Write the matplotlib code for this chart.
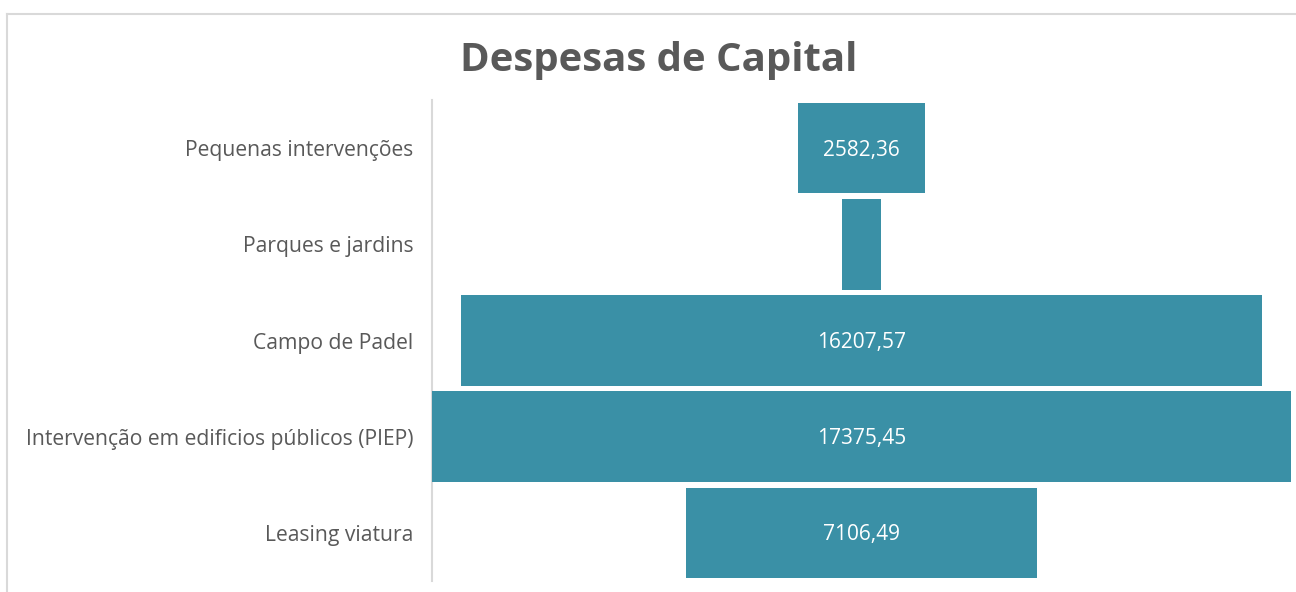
import matplotlib
matplotlib.use("Agg")
import matplotlib.pyplot as plt
from matplotlib.lines import Line2D

categories = ["Pequenas intervenções", "Parques e jardins", "Campo de Padel",
              "Intervenção em edificios públicos (PIEP)", "Leasing viatura"]
values = [2582.36, 790.0, 16207.57, 17375.45, 7106.49]
labels = ["2582,36", "", "16207,57", "17375,45", "7106,49"]
title = "Despesas de Capital"

W, H = 1296, 592
fig = plt.figure(figsize=(W / 100, H / 100), dpi=100)
fig.patch.set_facecolor("white")

# chart border
fig.add_artist(Line2D([7 / W, 7 / W], [0, 1 - 13.5 / H], transform=fig.transFigure,
                      color="#d9d9d9", lw=1.5))
fig.add_artist(Line2D([7 / W, 1], [1 - 13.5 / H, 1 - 13.5 / H], transform=fig.transFigure,
                      color="#d9d9d9", lw=1.5))

ax = fig.add_axes([432 / W, 1 - 581 / H, (1291 - 432) / W, (581 - 100) / H])
color = "#3a90a6"
ys = list(range(len(categories)))
vmax = max(values)
for y, v, lab in zip(ys, values, labels):
    ax.barh(y, v, left=-v / 2, height=0.94, color=color, zorder=1)
    if lab:
        ax.text(0, y + 0.02, lab, ha="center", va="center", color="white",
                fontsize=15, family="Open Sans")
ax.set_xlim(-vmax / 2, vmax / 2)
ax.set_ylim(len(categories) - 0.5, -0.5)
ax.set_yticks(ys)
ax.set_yticklabels(categories, fontsize=15.2, color="#595959", family="Open Sans")
ax.tick_params(axis="y", length=0, pad=13.5)
ax.set_xticks([])
for s in ["top", "right", "bottom"]:
    ax.spines[s].set_visible(False)
ax.spines["left"].set_color("#d9d9d9")
ax.spines["left"].set_linewidth(1.5)
ax.spines["left"].set_zorder(0)
ax.set_facecolor("none")

fig.text(659 / W, 1 - 60 / H, title, ha="center", va="center", fontsize=28.9,
         fontweight="bold", color="#595959", family="Open Sans")

fig.savefig("out.png", dpi=100, facecolor="white")
